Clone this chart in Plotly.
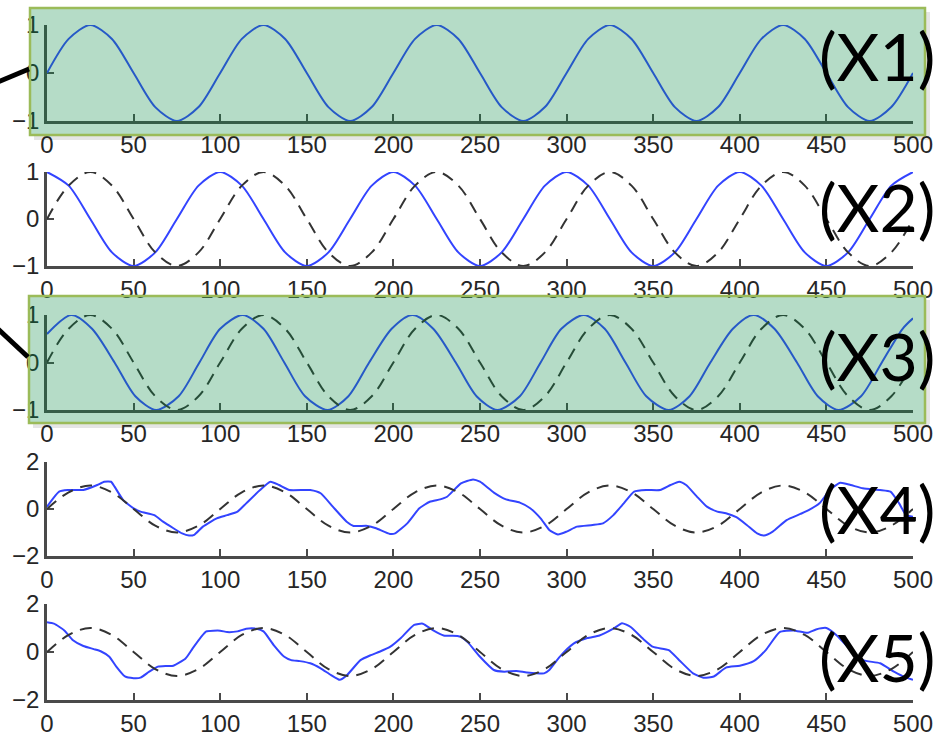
import plotly.graph_objects as go

W, H = 943, 738

# ---- data -------------------------------------------------------------
x_ticks = [0, 50, 100, 150, 200, 250, 300, 350, 400, 450, 500]

# sample positions for the clean sinusoids
wave_x = [0, 12.5, 25, 37.5, 50, 62.5, 75, 87.5, 100, 112.5,
          125, 137.5, 150, 162.5, 175, 187.5, 200, 212.5, 225, 237.5,
          250, 262.5, 275, 287.5, 300, 312.5, 325, 337.5, 350, 362.5,
          375, 387.5, 400, 412.5, 425, 437.5, 450, 462.5, 475, 487.5, 500]

# reference wave (solid in X1, dashed in X2..X5)
ref_wave = [0, 0.71, 1, 0.71, 0, -0.71, -1, -0.71, 0, 0.71,
            1, 0.71, 0, -0.71, -1, -0.71, 0, 0.71, 1, 0.71,
            0, -0.71, -1, -0.71, 0, 0.71, 1, 0.71, 0, -0.71,
            -1, -0.71, 0, 0.71, 1, 0.71, 0, -0.71, -1, -0.71, 0]

# X2: quarter-period shifted wave
x2_wave = [1, 0.71, 0, -0.71, -1, -0.71, 0, 0.71, 1, 0.71,
           0, -0.71, -1, -0.71, 0, 0.71, 1, 0.71, 0, -0.71,
           -1, -0.71, 0, 0.71, 1, 0.71, 0, -0.71, -1, -0.71,
           0, 0.71, 1, 0.71, 0, -0.71, -1, -0.71, 0, 0.71, 1]

# X3: slightly faster wave
x3_x = [0, 14, 26, 39, 51, 63, 76, 88, 100, 113,
        125, 137, 149, 162, 174, 186, 199, 211, 223, 236,
        248, 260, 273, 285, 297, 310, 322, 334, 346, 359,
        371, 383, 396, 408, 420, 433, 445, 457, 470, 482, 494, 500]
x3_wave = [0.6, 1, 0.71, 0, -0.71, -1, -0.71, 0, 0.71, 1,
           0.71, 0, -0.71, -1, -0.71, 0, 0.71, 1, 0.71, 0,
           -0.71, -1, -0.71, 0, 0.71, 1, 0.71, 0, -0.71, -1,
           -0.71, 0, 0.71, 1, 0.71, 0, -0.71, -1, -0.71, 0, 0.71, 0.93]

# X4: distorted signal
x4_x = [0, 7, 12, 21, 29, 33, 37, 39, 44, 50,
        54, 62, 67, 73, 78, 82, 85, 90, 98, 104,
        110, 115, 123, 129, 134, 140, 152, 158, 165, 173,
        177, 185, 190, 198, 201, 208, 215, 221, 227, 231,
        239, 246, 250, 258, 265, 273, 279, 285, 290, 295,
        300, 306, 315, 321, 327, 333, 339, 346, 354, 360,
        365, 369, 375, 381, 387, 392, 398, 404, 410, 414,
        419, 427, 435, 440, 446, 452, 458, 464, 471, 481,
        487, 492, 496, 500]
x4_wave = [0.1, 0.74, 0.81, 0.81, 1.02, 1.16, 1.16, 0.95, 0.38, 0.03,
           -0.11, -0.26, -0.54, -0.82, -1.04, -1.13, -1.1, -0.75, -0.4, -0.26,
           -0.11, 0.24, 0.81, 1.16, 1.02, 0.81, 0.81, 0.67, 0.1, -0.54,
           -0.72, -0.72, -0.82, -1.06, -1.04, -0.61, 0.03, 0.31, 0.41, 0.52,
           1.09, 1.26, 1.16, 0.7, 0.41, 0.27, 0.03, -0.4, -0.89, -1.08,
           -0.96, -0.75, -0.68, -0.61, -0.26, 0.24, 0.74, 0.81, 0.81, 1.02,
           1.16, 1.02, 0.55, 0.1, -0.11, -0.18, -0.35, -0.68, -1.04, -1.13,
           -0.96, -0.47, -0.21, -0.04, 0.24, 0.81, 1.12, 1.02, 0.88, 0.81,
           0.74, 0.24, -0.26, -0.33]

# X5: distorted signal
x5_x = [0, 4, 10, 15, 21, 27, 31, 36, 40, 45,
        50, 54, 59, 64, 69, 73, 80, 84, 89, 92,
        100, 104, 110, 115, 121, 125, 131, 137, 141, 146,
        152, 158, 164, 169, 173, 181, 187, 192, 198, 204,
        212, 217, 223, 229, 237, 239, 243, 250, 258, 264,
        271, 277, 287, 290, 296, 304, 312, 319, 327, 332,
        337, 344, 350, 359, 365, 373, 379, 385, 392, 400,
        408, 415, 423, 431, 439, 444, 450, 456, 464, 471,
        481, 489, 496, 500]
x5_wave = [1.24, 1.18, 0.9, 0.49, 0.25, 0.12, 0.03, -0.2, -0.61, -1.02,
           -1.09, -1.07, -0.82, -0.61, -0.58, -0.57, -0.27, 0.14, 0.63, 0.86,
           0.89, 0.83, 0.86, 0.97, 0.97, 0.86, 0.28, -0.2, -0.34, -0.38,
           -0.47, -0.68, -0.96, -1.16, -0.98, -0.34, -0.13, 0.01, 0.21, 0.56,
           1.13, 1.18, 0.9, 0.69, 0.67, 0.63, 0.4, -0.2, -0.75, -0.82,
           -0.79, -0.85, -0.89, -0.75, -0.2, 0.35, 0.58, 0.69, 0.97, 1.2,
           1.04, 0.56, 0.21, 0.08, -0.34, -0.89, -1.07, -1.02, -0.65, -0.57,
           -0.38, 0.08, 0.83, 0.9, 0.8, 0.94, 1.0, 0.69, 0.08, -0.34,
           -0.47, -0.82, -1.07, -1.16]

panel_labels = ["(X1)", "(X2)", "(X3)", "(X4)", "(X5)"]
y_limits = [1, 1, 1, 2, 2]

# ---- layout helpers ---------------------------------------------------
def px_x(p):
    return p / W


def px_y(p):
    return 1 - p / H


# pixel rows of each axes box: (top, bottom)
rows = [(25, 121), (172, 266), (315, 410), (462, 556), (604, 700)]
label_y = [55, 206, 356, 508, 656]
highlight_rows = [0, 2]
AX_LEFT, AX_RIGHT = 47, 913

BLUE = "#3344ff"
DASH = "#333333"
AXIS = "#4a4a4a"
TICK_FONT = dict(family="Liberation Sans, Arial, sans-serif", size=24, color="#262626")

solid = [(wave_x, ref_wave), (wave_x, x2_wave), (x3_x, x3_wave), (x4_x, x4_wave), (x5_x, x5_wave)]
smooth = [0.8, 0.8, 0.8, 0.5, 0.5]

fig = go.Figure()
layout = dict(
    template="none",
    width=W, height=H,
    margin=dict(l=0, r=0, t=0, b=0, pad=0),
    paper_bgcolor="white", plot_bgcolor="rgba(0,0,0,0)",
    showlegend=False,
)

for i, ((sx, sy), lim, (top, bot)) in enumerate(zip(solid, y_limits, rows)):
    n = i + 1
    xa = "x" if n == 1 else f"x{n}"
    ya = "y" if n == 1 else f"y{n}"
    fig.add_trace(go.Scatter(
        x=sx, y=sy, xaxis=xa, yaxis=ya, mode="lines",
        line=dict(color=BLUE, width=2, shape="spline", smoothing=smooth[i]),
        cliponaxis=False, hoverinfo="skip"))
    if i > 0:
        fig.add_trace(go.Scatter(
            x=wave_x, y=ref_wave, xaxis=xa, yaxis=ya, mode="lines",
            line=dict(color=DASH, width=2, dash="12px,8px", shape="spline"),
            cliponaxis=False, hoverinfo="skip"))

    axis_common = dict(
        showline=True, linecolor=AXIS, linewidth=2.5,
        ticks="inside", ticklen=7, tickwidth=2, tickcolor=AXIS,
        showgrid=False, zeroline=False, tickfont=TICK_FONT,
        layer="below traces", fixedrange=True, automargin=False,
    )
    layout["xaxis" if n == 1 else f"xaxis{n}"] = dict(
        axis_common, domain=[px_x(AX_LEFT), px_x(AX_RIGHT)],
        range=[0, 500], tickvals=x_ticks, anchor=ya)
    layout["yaxis" if n == 1 else f"yaxis{n}"] = dict(
        axis_common, domain=[px_y(bot), px_y(top)],
        range=[-lim, lim], tickvals=[-lim, 0, lim], anchor=xa)

fig.update_layout(**layout)

# green highlight boxes with a soft drop shadow
box_px = {0: (30, 925, 8, 135), 2: (29, 925, 296, 423)}
for r in highlight_rows:
    x0, x1, y0, y1 = box_px[r]
    fig.add_shape(type="rect", xref="paper", yref="paper",
                  x0=px_x(x0 + 4), x1=px_x(x1 + 4), y0=px_y(y1 + 5), y1=px_y(y1 + 1),
                  fillcolor="rgba(0,0,0,0.10)", line_width=0, layer="above")
    fig.add_shape(type="rect", xref="paper", yref="paper",
                  x0=px_x(x1 + 1), x1=px_x(x1 + 5), y0=px_y(y1 + 1), y1=px_y(y0 + 4),
                  fillcolor="rgba(0,0,0,0.10)", line_width=0, layer="above")
    fig.add_shape(type="rect", xref="paper", yref="paper",
                  x0=px_x(x0), x1=px_x(x1), y0=px_y(y1), y1=px_y(y0),
                  fillcolor="rgba(10,140,70,0.30)",
                  line=dict(color="#9bbb59", width=2.5), layer="above")

# connector strokes entering the highlighted boxes from the left
fig.add_shape(type="line", xref="paper", yref="paper",
              x0=px_x(-2), y0=px_y(82), x1=px_x(29), y1=px_y(69),
              line=dict(color="black", width=5), layer="above")
fig.add_shape(type="line", xref="paper", yref="paper",
              x0=px_x(-2), y0=px_y(329), x1=px_x(28), y1=px_y(357),
              line=dict(color="black", width=5), layer="above")

for text, yc in zip(panel_labels, label_y):
    fig.add_annotation(text=text, xref="paper", yref="paper",
                       x=px_x(937), y=px_y(yc), xanchor="right", yanchor="middle",
                       showarrow=False,
                       font=dict(family="Lato, Carlito, sans-serif", size=66, color="black"))

fig.write_html("out.html")
